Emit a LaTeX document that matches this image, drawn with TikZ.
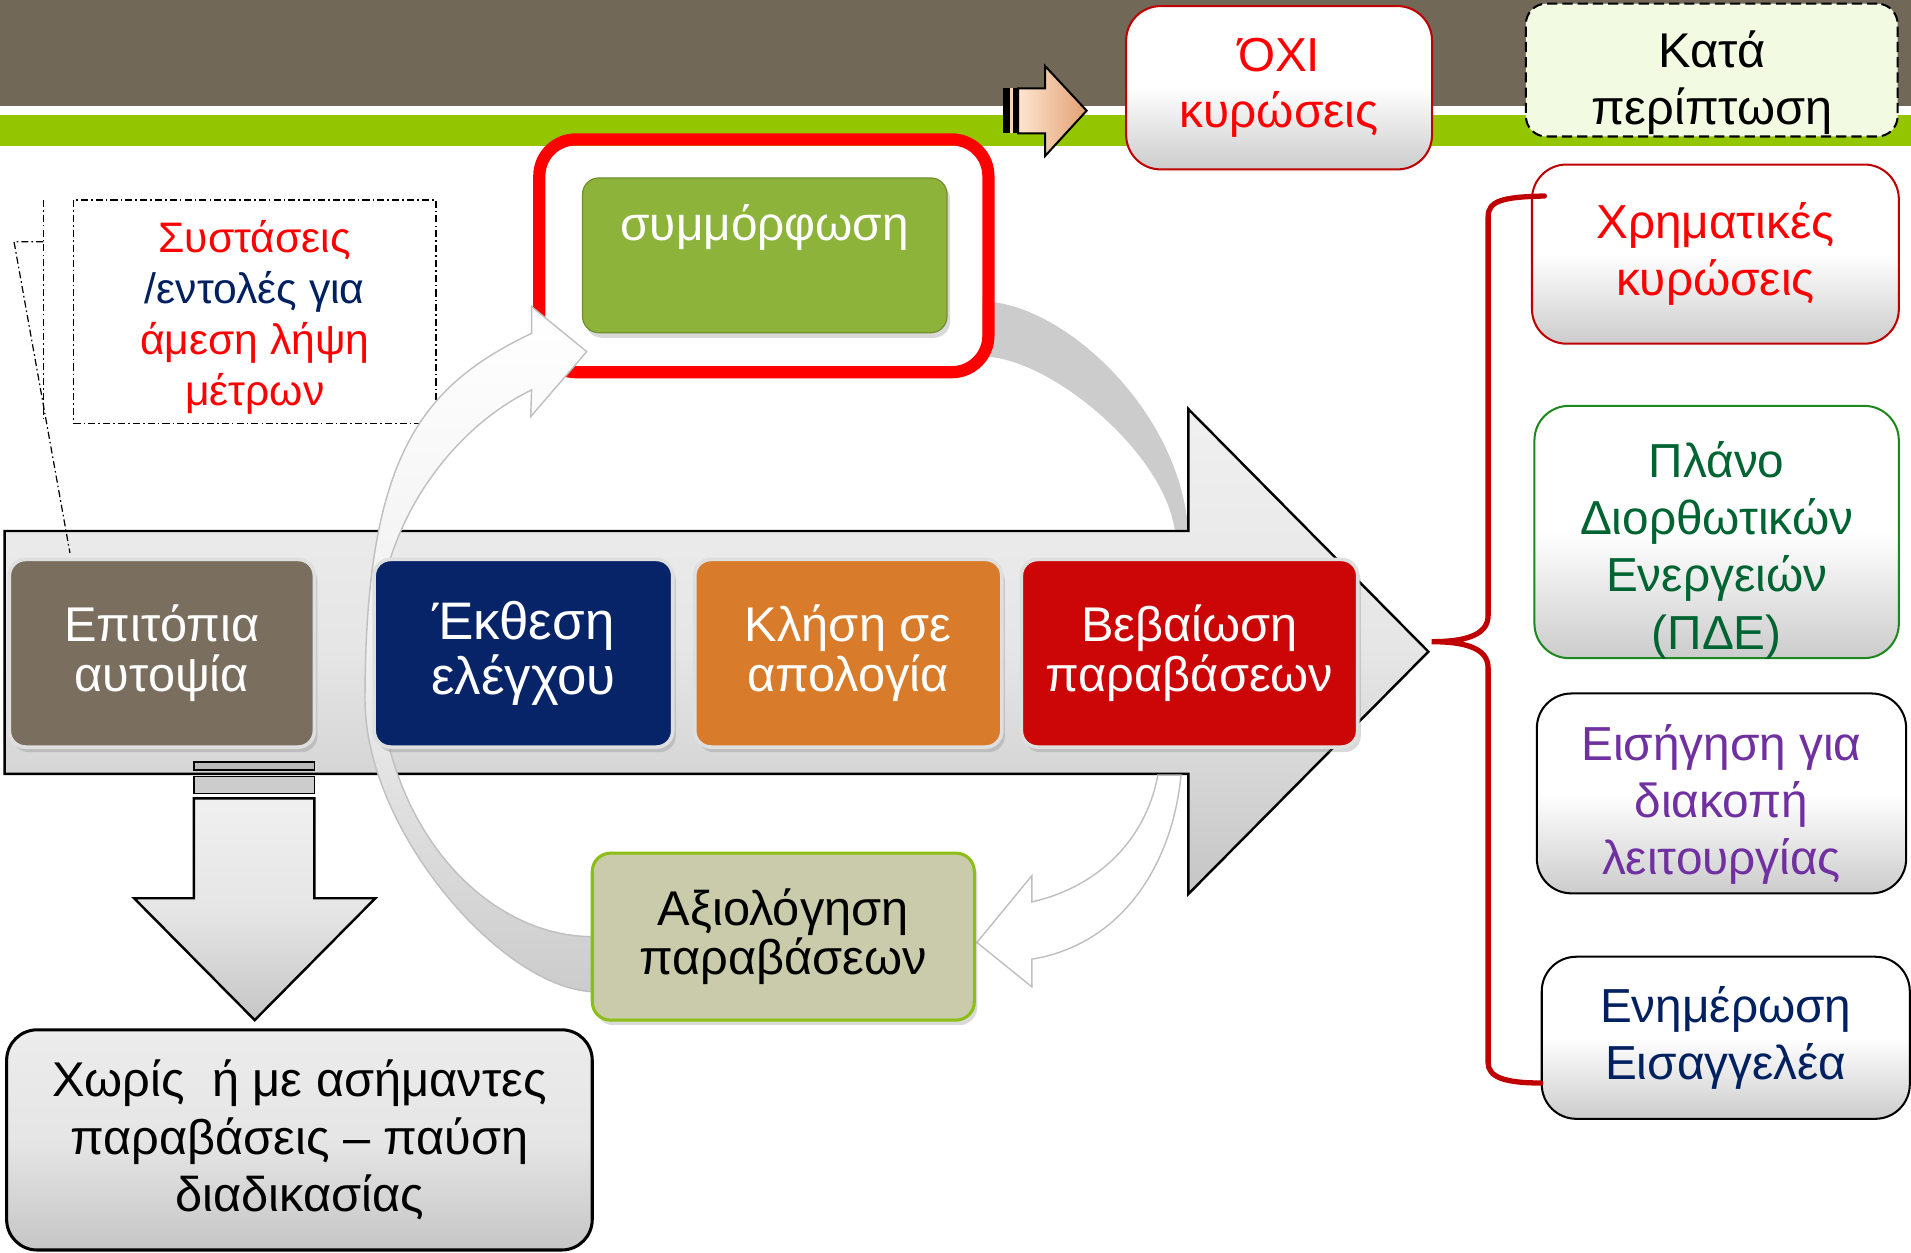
\documentclass[tikz,border=0pt]{standalone}
\usepackage{fontspec}
\setmainfont{Liberation Sans}
\usetikzlibrary{shadows}

\definecolor{bandBrown}{RGB}{113,104,88}
\definecolor{bandGreen}{RGB}{148,198,0}
\definecolor{inspBrown}{RGB}{122,111,95}
\definecolor{reportBlue}{RGB}{8,36,104}
\definecolor{hearOrange}{RGB}{216,123,42}
\definecolor{certRed}{RGB}{204,6,6}
\definecolor{complyGreen}{RGB}{141,179,58}
\definecolor{evalKhaki}{RGB}{201,203,170}
\definecolor{evalEdge}{RGB}{140,190,20}
\definecolor{darkRed}{RGB}{192,0,0}
\definecolor{navyText}{RGB}{0,32,96}
\definecolor{planGreen}{RGB}{0,100,50}
\definecolor{planEdge}{RGB}{30,135,30}
\definecolor{stopPurple}{RGB}{112,48,160}
\definecolor{caseFill}{RGB}{242,250,225}
\definecolor{peach}{RGB}{252,212,176}
\definecolor{peachDark}{RGB}{226,160,115}

\tikzset{
  softshadow/.style={drop shadow={opacity=0.3, shadow xshift=1.5pt, shadow yshift=-2.5pt}},
  stagebox/.style={rounded corners=8pt, minimum height=92.4pt, align=center,
    text=white, draw=gray!25, line width=1.8pt, softshadow,
    font=\fontsize{24}{25}\selectfont},
  sidebox/.style={rounded corners=17pt, align=center, line width=1pt,
    top color=white, bottom color=gray!40, middle color=white,
    font=\fontsize{23.5}{28}\selectfont},
  boxtext/.style={align=center, inner sep=0pt},
  bigarrow/.style={draw=black, line width=1.2pt, top color=gray!12,
    bottom color=gray!45, middle color=gray!20},
  curvearrow/.style={draw=gray!50, line width=0.7pt},
  calloutline/.style={line width=0.6pt, dash pattern=on 3.5pt off 1.5pt on 0.8pt off 1.5pt},
  braceline/.style={draw=darkRed, line width=2.6pt, line cap=round}
}

\begin{document}
\begin{tikzpicture}[x=0.6pt, y=-0.6pt]
\useasboundingbox (0,0) rectangle (1568,1028);

% title bands
\fill[bandBrown] (0,0) rectangle (1568,87);
\fill[bandGreen] (0,94) rectangle (1568,120);

% grey band from the compliance frame down to the arrow
\fill[gray!40] (806,247.4) .. controls (870,247.4) and (968,335) .. (975,435.7)
  -- (964,435.7) .. controls (955,370) and (860,292.5) .. (806,292.5) -- cycle;

% compliance
\node[draw=red, line width=6pt, rounded corners=18pt, minimum width=221.1pt,
  minimum height=114.6pt] (complyFrame) at (626.75,209.9) {};
\node[rounded corners=8pt, fill=complyGreen, draw=complyGreen!80!black, line width=0.6pt,
  minimum width=179.4pt, minimum height=76.2pt, softshadow] (complyBox) at (627.5,209.5) {};
\node[boxtext, text=white, font=\fontsize{23.5}{25}\selectfont, anchor=base]
  (complyText) at (627.5,197) {συμμόρφωση};

% main arrow
\draw[bigarrow] (3.8,435.7) -- (975,435.7) -- (975,335.6) -- (1172,534.7)
  -- (975,733.6) -- (975,635) -- (3.8,635) -- cycle;

% down arrow
\draw[bigarrow] (159,655) -- (258,655) -- (258,737) -- (308,737) -- (209,837)
  -- (110,737) -- (159,737) -- cycle;
\filldraw[fill=gray!55, draw=black, line width=0.8pt] (159,625) rectangle (258,632);
\filldraw[fill=gray!40, draw=black, line width=0.8pt] (159,637) rectangle (258,651);

% recommendations callout
\node[calloutline, draw, minimum width=178.5pt, minimum height=110pt, align=center,
  font=\fontsize{21}{25.1}\selectfont] (measBox) at (209,255.7)
  {\rule{0pt}{21.5pt}\textcolor{red}{Συστάσεις}\\\textcolor{navyText}{/εντολές για}\\
   \textcolor{red}{άμεση λήψη}\\\textcolor{red}{μέτρων}};
\draw[calloutline] (35.5,164) -- (35.5,344.6);
\draw[calloutline] (35.5,198.3) -- (11.5,198.3) -- (57.4,453.7);

% return arrow to compliance
\draw[curvearrow, top color=white, bottom color=gray!40, middle color=gray!12]
  (486,813.7) .. controls (410,810) and (299.5,680) .. (299.5,574.3)
  .. controls (299.5,374) and (346,316.5) .. (436.2,273.5)
  -- (436.2,251.6) -- (481.4,288.5) -- (435.4,341.9) -- (436.2,320)
  .. controls (373,350) and (309,430) .. (309,530)
  .. controls (309,680) and (400,768.5) .. (486,768.5) -- cycle;

% arrow back to evaluation
\draw[curvearrow, fill=white] (950,636) .. controls (940,690) and (900,728) .. (846.7,740)
  -- (846.7,718.4) -- (801.6,773.3) -- (846.7,809.8) -- (846.7,787)
  .. controls (920,775) and (962,710) .. (969,636) -- cycle;

% stages
\node[stagebox, fill=inspBrown, minimum width=150.2pt] (inspBox) at (132.8,536) {Επιτόπια\\αυτοψία};
\node[stagebox, fill=reportBlue, minimum width=147pt, font=\fontsize{26}{27}\selectfont]
  (reportBox) at (429.5,536) {Έκθεση\\ελέγχου};
\node[stagebox, fill=hearOrange, minimum width=151.2pt] (hearBox) at (696,536) {Κλήση σε\\απολογία};
\node[stagebox, fill=certRed, minimum width=165.6pt] (certBox) at (976,536) {Βεβαίωση\\παραβάσεων};

\node[rounded corners=9pt, fill=evalKhaki, draw=evalEdge, line width=1.5pt, minimum width=188.1pt,
  minimum height=82.2pt, align=center, font=\fontsize{24}{23}\selectfont, softshadow]
  (evalBox) at (642.7,768.5) {Αξιολόγηση\\παραβάσεων};

\node[rounded corners=15pt, draw=black, line width=1.5pt, top color=gray!15, bottom color=gray!45,
  middle color=gray!20, minimum width=288.3pt, minimum height=108.4pt, align=center,
  font=\fontsize{24}{28.5}\selectfont] (endBox) at (245.7,935.3)
  {Χωρίς~ ή με ασήμαντες\\παραβάσεις – παύση\\διαδικασίας};

% small arrow in the title band
\fill[black] (823.2,72.5) rectangle (835.3,109.4);
\fill[peach] (828.7,72.5) rectangle (831.4,109.4);
\draw[line width=1pt, left color=peach!60!white, right color=peachDark]
  (835.3,72.5) -- (857.5,72.5) -- (857.5,54.2) -- (891.6,90.8) -- (857.5,128)
  -- (857.5,109.4) -- (835.3,109.4) -- cycle;

% outcome boxes
\node[sidebox, draw=darkRed, text=red, minimum width=150.6pt, minimum height=80.4pt]
  (noBox) at (1049.5,72) {ΌΧΙ\\κυρώσεις};
\node[rounded corners=10pt, draw=black, dash pattern=on 5pt off 2.5pt, line width=1pt,
  fill=caseFill, minimum width=183pt, minimum height=65.4pt] (caseBox) at (1404.5,57.5) {};
\node[boxtext, font=\fontsize{24}{28}\selectfont] (caseText) at (1404.5,67.5) {Κατά\\περίπτωση};

\node[sidebox, draw=darkRed, text=red, minimum width=180.6pt, minimum height=88.2pt]
  (finesBox) at (1407.5,208.5) {Χρηματικές\\κυρώσεις};
\node[sidebox, draw=planEdge, minimum width=179.4pt, minimum height=124.2pt] (planBox) at (1408.5,436.5) {};
\node[boxtext, text=planGreen, font=\fontsize{23.5}{28.2}\selectfont]
  (planText) at (1408.5,451.5) {Πλάνο\\Διορθωτικών\\Ενεργειών\\(ΠΔΕ)};
\node[sidebox, draw=black, minimum width=181.8pt, minimum height=98.4pt] (stopBox) at (1412.5,651) {};
\node[boxtext, text=stopPurple, font=\fontsize{23.5}{27.9}\selectfont]
  (stopText) at (1412.5,660) {Εισήγηση για\\διακοπή\\λειτουργίας};
\node[sidebox, draw=black, text=navyText, minimum width=181.2pt, minimum height=79.8pt]
  (prosBox) at (1416,851.5) {Ενημέρωση\\Εισαγγελέα};

% brace
\coordinate (braceTip) at (1174.7,526.5);
\draw[braceline] ([shift={(6.6pt,-16pt)}]finesBox.north west)
  .. controls (1232,161.6) and (1221,165) .. (1221,178) -- (1221,505)
  .. controls (1221,522) and (1200,526.5) .. (braceTip)
  .. controls (1200,526.5) and (1221,531) .. (1221,548) -- (1221,872)
  .. controls (1221,884) and (1235,888.6) .. (prosBox.west |- 0,888.6);
\end{tikzpicture}
\end{document}
